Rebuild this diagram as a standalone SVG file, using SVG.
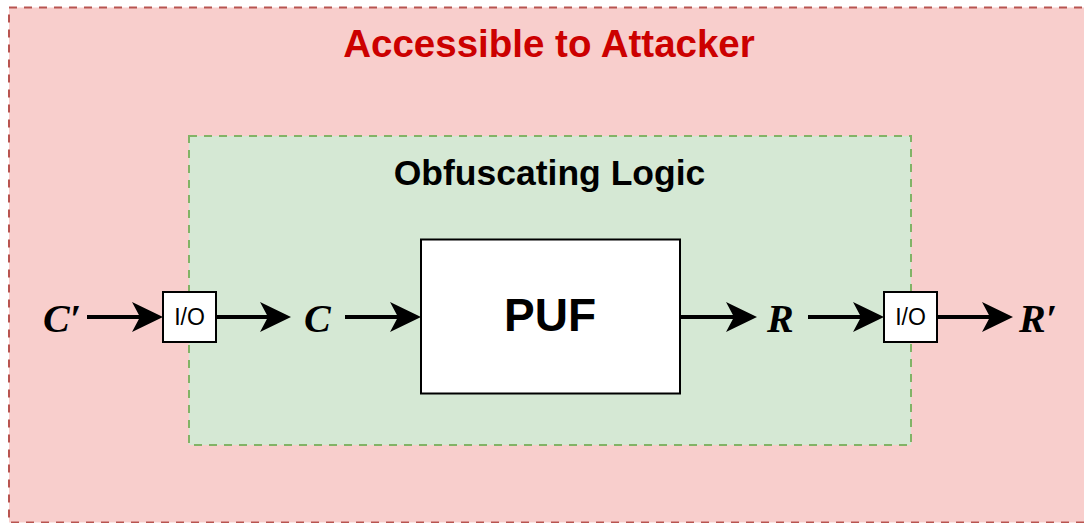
<svg xmlns="http://www.w3.org/2000/svg" width="1084" height="523" viewBox="0 0 1084 523">
<style>
.sans{font-family:"Liberation Sans",Arial,sans-serif;font-weight:bold}
.var{font-family:"Liberation Serif","Times New Roman",serif;font-weight:bold;font-style:italic;font-size:40px;fill:#000}
.io{font-family:"Liberation Sans",Arial,sans-serif;font-size:23px;fill:#000}
.conn{stroke:#000;stroke-width:4;fill:none;marker-end:url(#arr)}
.box{fill:#fff;stroke:#000;stroke-width:2}
</style>
<defs>
<marker id="arr" markerUnits="userSpaceOnUse" viewBox="0 0 31 30" refX="23" refY="15" markerWidth="31" markerHeight="30" orient="auto">
<path d="M0,0 L31,15 L0,30 L8,15 Z" fill="#000"/>
</marker>
</defs>
<g id="attacker">
<rect x="9" y="7.5" width="1090" height="515" fill="#f8cecc" stroke="#b85450" stroke-width="2" stroke-dasharray="8 7"/>
<text class="sans" x="549" y="57" font-size="38.5" fill="#cc0000" text-anchor="middle">Accessible to Attacker</text>
</g>
<g id="obfuscating">
<rect x="189" y="136" width="722" height="309" fill="#d5e8d4" stroke="#82b366" stroke-width="2" stroke-dasharray="8 7"/>
<text class="sans" x="549.5" y="185" font-size="35.5" fill="#000" text-anchor="middle">Obfuscating Logic</text>
</g>
<g id="puf">
<rect class="box" x="421" y="239.5" width="259" height="154"/>
<text class="sans" x="550" y="331" font-size="46" fill="#000" text-anchor="middle">PUF</text>
</g>
<g id="io-in">
<rect class="box" x="163" y="292" width="53" height="50"/>
<text class="io" x="189.5" y="325" text-anchor="middle">I/O</text>
</g>
<g id="io-out">
<rect class="box" x="884" y="292" width="53" height="50"/>
<text class="io" x="910.5" y="325" text-anchor="middle">I/O</text>
</g>
<g id="labels">
<text class="var" x="43" y="332">C′</text>
<text class="var" x="304" y="332">C</text>
<text class="var" x="767" y="332">R</text>
<text class="var" x="1019" y="332">R′</text>
</g>
<g id="connectors">
<line class="conn" x1="87" y1="317" x2="155" y2="317"/>
<line class="conn" x1="216" y1="317" x2="283" y2="317"/>
<line class="conn" x1="345" y1="317" x2="413" y2="317"/>
<line class="conn" x1="681" y1="317" x2="749" y2="317"/>
<line class="conn" x1="808" y1="317" x2="876" y2="317"/>
<line class="conn" x1="937" y1="317" x2="1005" y2="317"/>
</g>
</svg>
